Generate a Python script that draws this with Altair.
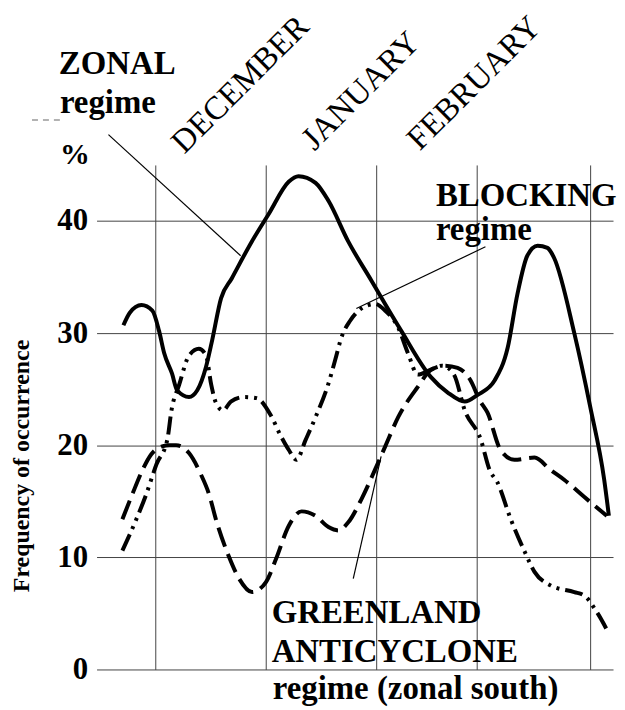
import altair as alt
import pandas as pd

FONT = "Liberation Serif"

# ---- data (x: position along Dec-Feb season, 0-100; y: frequency %) ----
zonal_x = [5.2, 6.4, 8.7, 10.8, 12.1, 13.1, 14.6, 15.6, 17.9, 19.5, 21.2, 22.4, 24.1, 26.2, 30.1,
           33.3, 37.2, 39.1, 42.4, 44.9, 48.7, 53.2, 55.1, 59.0, 64.7, 68.0, 71.3, 73.8, 77.1,
           79.6, 81.5, 83.4, 85.4, 87.3, 88.6, 92.5, 95.6, 98.3, 99.2]
zonal_y = [30.7, 31.8, 32.5, 32.0, 30.2, 28.2, 26.4, 24.9, 24.3, 24.9, 27.0, 29.4, 33.1, 34.9, 38.2,
           40.6, 43.5, 44.0, 43.4, 41.8, 38.2, 34.7, 33.2, 30.2, 26.1, 24.7, 23.9, 24.5, 25.8,
           28.7, 33.5, 36.9, 37.8, 37.6, 36.7, 30.0, 23.4, 16.9, 13.7]

blocking_x = [5.0, 7.7, 9.6, 11.6, 13.7, 14.5, 16.0, 17.9, 19.8, 21.2, 22.2, 23.1, 24.5, 26.0, 28.5,
              31.0, 33.7, 35.6, 37.2, 38.7, 40.5, 42.4, 44.9, 46.2, 47.4, 49.1, 51.3, 53.9, 55.9,
              58.4, 60.3, 62.2, 64.5, 66.9, 69.2, 71.3, 74.4, 76.1, 77.6, 80.2, 82.9, 84.8, 87.9,
              92.5, 94.4, 96.9, 99.2]
blocking_y = [10.6, 13.4, 15.6, 18.3, 20.5, 23.1, 25.4, 28.0, 28.6, 28.0, 25.4, 23.8, 23.1, 23.9, 24.3,
              24.2, 22.7, 20.9, 19.6, 18.7, 20.5, 22.5, 25.5, 27.6, 29.6, 31.1, 32.2, 32.6, 32.0,
              30.5, 28.2, 26.3, 26.7, 27.1, 26.3, 23.1, 20.5, 17.8, 16.7, 13.4, 10.5, 8.7, 7.5,
              6.9, 6.6, 5.1, 3.2]

greenland_x = [5.0, 6.9, 8.9, 10.6, 12.7, 14.1, 15.4, 17.9, 20.2, 21.8, 23.1, 25.6, 27.6, 30.1, 32.8,
               34.7, 37.2, 39.7, 42.4, 44.9, 46.8, 48.7, 51.3, 53.9, 55.9, 58.4, 62.2, 64.7, 67.4,
               69.9, 72.4, 74.2, 75.7, 78.2, 80.9, 84.8, 87.9, 90.6, 94.4, 98.8]
greenland_y = [13.4, 15.6, 17.8, 19.2, 19.9, 20.0, 20.0, 19.3, 17.4, 15.6, 13.4, 10.1, 8.1, 6.9, 7.8,
               9.8, 12.8, 14.1, 13.7, 12.7, 12.4, 13.1, 15.2, 17.8, 19.9, 22.5, 25.2, 26.7, 27.1,
               26.9, 25.8, 24.0, 22.9, 19.6, 18.7, 18.9, 17.8, 16.9, 15.4, 13.7]

grid_x = [11.4, 32.8, 54.1, 73.6, 95.6]
y_ticks = [0, 10, 20, 30, 40]

months = ["DECEMBER", "JANUARY", "FEBRUARY"]
month_x = [17.0, 42.2, 62.6]
month_y = [45.9, 46.2, 46.2]

labels = ["ZONAL", "regime", "BLOCKING", "regime", "GREENLAND", "ANTICYCLONE", "regime (zonal south)"]
label_x = [-7.3, -7.1, 65.7, 65.7, 33.9, 33.9, 34.1]
label_y = [53.1, 49.6, 41.3, 38.3, 4.1, 0.7, -2.6]

unit_label = ["%"]
unit_x = [-7.1]
unit_y = [45.1]

leader_x1 = [2.3, 75.3, 49.7]
leader_y1 = [47.7, 37.7, 8.1]
leader_x2 = [27.9, 50.3, 55.1]
leader_y2 = [36.9, 32.2, 19.0]

mark_x1 = [-12.5]
mark_x2 = [-6.2]
mark_y = [49.0]

# ---- build tables ----
zonal_df = pd.DataFrame({"x": zonal_x, "y": zonal_y})
blocking_df = pd.DataFrame({"x": blocking_x, "y": blocking_y})
greenland_df = pd.DataFrame({"x": greenland_x, "y": greenland_y})
month_df = pd.DataFrame({"t": months, "x": month_x, "y": month_y})
label_df = pd.DataFrame({"t": labels, "x": label_x, "y": label_y})
unit_df = pd.DataFrame({"t": unit_label, "x": unit_x, "y": unit_y})
leader_df = pd.DataFrame({"x": leader_x1, "y": leader_y1, "x2": leader_x2, "y2": leader_y2})
mark_df = pd.DataFrame({"x": mark_x1, "x2": mark_x2, "y": mark_y})

xenc = alt.X("x:Q",
             scale=alt.Scale(domain=[0, 100], nice=False, zero=False),
             axis=alt.Axis(values=grid_x, grid=True, labels=False, ticks=False, domain=False,
                           title=None, gridColor="#444", gridWidth=1, gridOpacity=1))
yenc = alt.Y("y:Q",
             scale=alt.Scale(domain=[0, 45], nice=False, zero=False),
             axis=alt.Axis(values=y_ticks, grid=True, ticks=False, domain=False,
                           gridColor="#444", gridWidth=1, gridOpacity=1,
                           labelFont=FONT, labelFontSize=31, labelFontWeight="bold",
                           labelColor="black", labelPadding=9,
                           title="Frequency of occurrence", titleFont=FONT, titleFontSize=24,
                           titleFontWeight="bold", titleColor="black", titleAngle=270,
                           titleX=-75, titleY=302, titleAlign="center", titleBaseline="middle"))

zonal = alt.Chart(zonal_df).mark_line(color="black", strokeWidth=4, interpolate="monotone").encode(
    x=xenc, y=yenc)
blocking = alt.Chart(blocking_df).mark_line(color="black", strokeWidth=4, interpolate="monotone",
                                            strokeDash=[18, 6, 3, 6, 3, 6]).encode(x=xenc, y=yenc)
greenland = alt.Chart(greenland_df).mark_line(color="black", strokeWidth=4, interpolate="monotone",
                                              strokeDash=[20, 8]).encode(x=xenc, y=yenc)

leaders = alt.Chart(leader_df).mark_rule(color="black", strokeWidth=1.2).encode(
    x=xenc, y=yenc, x2="x2:Q", y2="y2:Q")
small_mark = alt.Chart(mark_df).mark_rule(color="#999", strokeWidth=1.5, strokeDash=[6, 5]).encode(
    x=xenc, y=yenc, x2="x2:Q")

month_text = alt.Chart(month_df).mark_text(font=FONT, fontSize=33, angle=315, align="left",
                                           baseline="alphabetic", color="black").encode(
    x=xenc, y=yenc, text="t:N")
label_text = alt.Chart(label_df).mark_text(font=FONT, fontSize=33, fontWeight="bold", align="left",
                                           baseline="alphabetic", color="black").encode(
    x=xenc, y=yenc, text="t:N")
unit_text = alt.Chart(unit_df).mark_text(font=FONT, fontSize=30, fontWeight="bold", align="left",
                                         baseline="alphabetic", color="black").encode(
    x=xenc, y=yenc, text="t:N")

chart = alt.layer(small_mark, leaders, greenland, blocking, zonal, month_text, label_text, unit_text).properties(
    width=519, height=507,
    autosize=alt.AutoSizeParams(type="none"),
    padding={"left": 89, "top": 156, "right": 4, "bottom": 37},
    background="white",
).configure_view(strokeWidth=0)

chart.save("out.html", embed_options={"renderer": "svg", "actions": False})
